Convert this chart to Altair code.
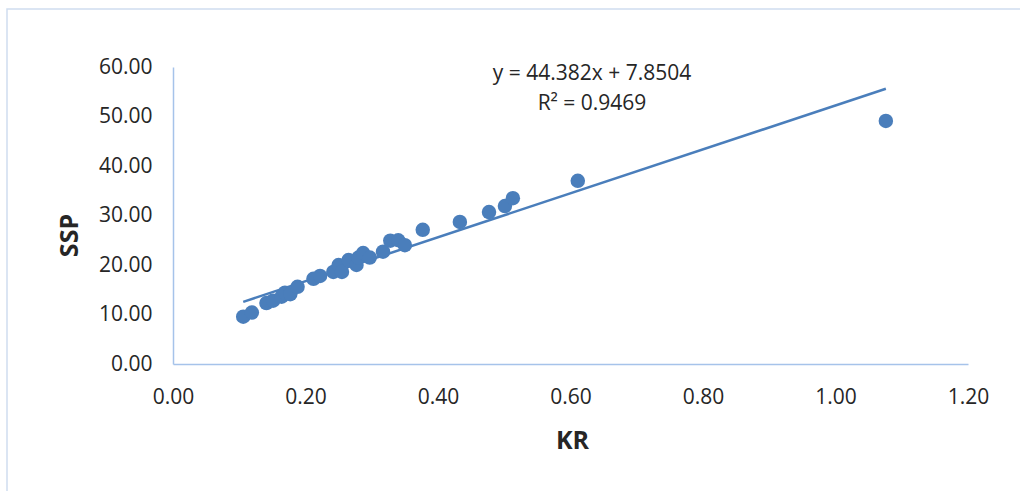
import altair as alt
import pandas as pd

kr = [0.106, 0.119, 0.141, 0.151, 0.164, 0.169, 0.177, 0.188, 0.212, 0.222,
      0.242, 0.250, 0.255, 0.265, 0.277, 0.280, 0.287, 0.297, 0.317, 0.328,
      0.340, 0.350, 0.377, 0.433, 0.477, 0.501, 0.513, 0.611, 1.076]
ssp = [9.55, 10.4, 12.3, 12.8, 13.6, 14.4, 14.1, 15.6, 17.2, 17.8,
       18.6, 20.0, 18.6, 21.0, 20.0, 21.5, 22.4, 21.5, 22.7, 24.9,
       25.0, 24.0, 27.1, 28.7, 30.7, 31.9, 33.5, 37.0, 49.1]
slope = 44.382
intercept = 7.8504
eq_text = ["y = 44.382x + 7.8504", "R² = 0.9469"]
x_ticks = [0, 0.2, 0.4, 0.6, 0.8, 1.0, 1.2]
y_ticks = [0, 10, 20, 30, 40, 50, 60]

df = pd.DataFrame({"KR": kr, "SSP": ssp})
xmin, xmax = min(kr), max(kr)
trend = pd.DataFrame({"KR": [xmin, xmax], "SSP": [slope * xmin + intercept, slope * xmax + intercept]})

BLUE = "#4a7ebb"
FONT = "Open Sans"
TXT = "#262626"
AXC = "#a6c3ea"

xs = alt.Scale(domain=[0, 1.2], nice=False, zero=True)
ys = alt.Scale(domain=[0, 60], nice=False)

xax = alt.Axis(values=x_ticks, format=".2f", grid=False, ticks=False, labelFlush=False,
               domainColor=AXC, domainWidth=1.5, labelFont=FONT, labelFontSize=21,
               labelColor=TXT, labelPadding=22, title="KR", titleFont=FONT,
               titleFontSize=25, titleFontWeight="bold", titleColor=TXT,
               titleX=572 - 173, titleY=448 - 364, titleBaseline="alphabetic", titleAlign="center")
yax = alt.Axis(values=y_ticks, format=".2f", grid=False, ticks=False, labelFlush=False,
               domainColor=AXC, domainWidth=1.5, labelFont=FONT, labelFontSize=21,
               labelColor=TXT, labelPadding=21, title="SSP", titleFont=FONT,
               titleFontSize=25, titleFontWeight="bold", titleColor=TXT, titleAngle=270,
               titleX=77 - 173, titleY=235 - 67, titleBaseline="alphabetic", titleAlign="center")

border = alt.Chart(pd.DataFrame({"a": [0]})).mark_rect(
    fill=None, stroke="#d0ddef", strokeWidth=1.5
).encode(x=alt.value(7 - 173), x2=alt.value(1040 - 173), y=alt.value(9 - 67), y2=alt.value(510 - 67))

points = alt.Chart(df).mark_circle(size=210, color=BLUE, opacity=1).encode(
    x=alt.X("KR:Q", scale=xs, axis=xax),
    y=alt.Y("SSP:Q", scale=ys, axis=yax),
)

line = alt.Chart(trend).mark_line(color=BLUE, strokeWidth=2.5).encode(
    x=alt.X("KR:Q", scale=xs),
    y=alt.Y("SSP:Q", scale=ys),
)

txt = alt.Chart(pd.DataFrame({"t": eq_text, "yy": [80 - 67, 110 - 67]})).mark_text(
    font=FONT, fontSize=21, color=TXT, align="center", baseline="alphabetic"
).encode(text="t:N", x=alt.value(592 - 173), y=alt.Y("yy:Q", scale=None))

chart = alt.layer(border, line, points, txt).properties(
    width=795, height=297,
    autosize=alt.AutoSizeParams(type="none"),
    padding={"left": 173, "top": 67, "right": 52, "bottom": 127},
    background="white",
).configure_view(stroke=None)

chart.save("out.html", embed_options={"renderer": "svg", "actions": False})
